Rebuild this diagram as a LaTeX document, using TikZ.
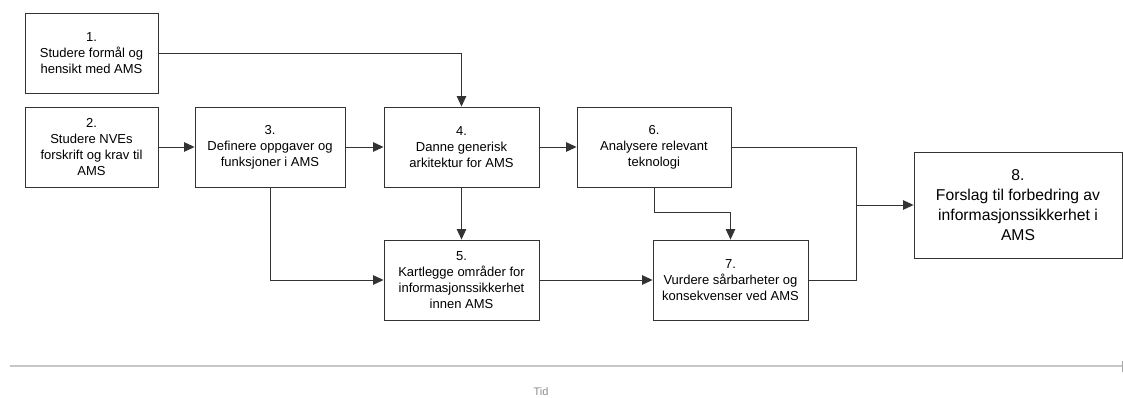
\documentclass[tikz,border=0pt]{standalone}
\usepackage{fontspec}
\setmainfont{Liberation Sans}
\usetikzlibrary{arrows.meta}
\begin{document}
\begin{tikzpicture}[x=1pt,y=-1pt,
  stepbox/.style={draw=black!80, line width=0.9pt, fill=white, align=center,
    inner sep=2pt, font=\fontsize{13}{16}\selectfont},
  arr/.style={draw=black!80, line width=0.9pt, -{Triangle[length=10.5pt,width=9.5pt]}},
  link/.style={draw=black!80, line width=0.9pt}]
\useasboundingbox (0,0) rectangle (1123,398);

% process steps
\node[stepbox, minimum width=133, minimum height=80] (b1) at (91.5,53)
  {1.\\Studere formål og\\hensikt med AMS};
\node[stepbox, minimum width=133, minimum height=80] (b2) at (91.5,147)
  {2.\\Studere NVEs\\forskrift og krav til\\AMS};
\node[stepbox, minimum width=150, minimum height=80] (b3) at (270,147)
  {3.\\Definere oppgaver og\\funksjoner i AMS};
\node[stepbox, minimum width=155, minimum height=80] (b4) at (461.5,147)
  {4.\\Danne generisk\\arkitektur for AMS};
\node[stepbox, minimum width=154, minimum height=80] (b6) at (654,147)
  {6.\\Analysere relevant\\teknologi};
\node[stepbox, minimum width=155, minimum height=80] (b5) at (461.5,280)
  {5.\\Kartlegge områder for\\informasjonssikkerhet\\innen AMS};
\node[stepbox, minimum width=155, minimum height=80] (b7) at (730.5,280)
  {7.\\Vurdere sårbarheter og\\konsekvenser ved AMS};
\node[stepbox, minimum width=208, minimum height=106,
  font=\fontsize{15.7}{20}\selectfont] (b8) at (1018,205)
  {8.\\Forslag til forbedring av\\informasjonssikkerhet i\\AMS};

% connectors
\draw[arr] (b1.east) -| (b4.north);
\draw[arr] (b2) -- (b3);
\draw[arr] (b3) -- (b4);
\draw[arr] (b4) -- (b6);
\draw[arr] (b4) -- (b5);
\draw[arr] (b3.south) |- (b5.west);
\draw[arr] (b5) -- (b7);
\coordinate (bend) at ([yshift=-25pt]b6.south);
\draw[link] (b6.south) -- (bend);
\draw[arr] (bend) -| (b7.north);
\coordinate (merge) at (856,205);
\draw[link] (b6.east) -| (merge);
\draw[link] (b7.east) -| (merge);
\draw[arr] (merge) -- (b8.west);

% time axis
\coordinate (tl) at (10,366);
\coordinate (tr) at (1122,366);
\draw[black!22, line width=1.3pt] (tl) -- (tr);
\draw[black!35, line width=0.8pt] ([yshift=5pt]tr) -- ([yshift=-6pt]tr);
\node[text=black!45, font=\fontsize{11}{13}\selectfont] (tid) at (541,392) {Tid};
\end{tikzpicture}
\end{document}
